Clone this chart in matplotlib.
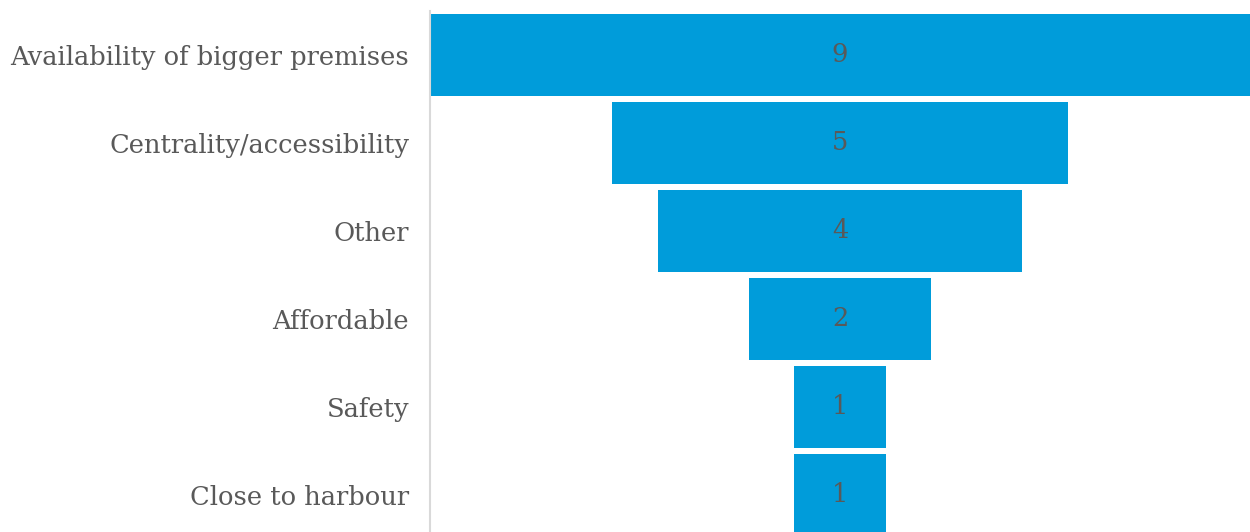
import matplotlib.pyplot as plt

# funnel data
categories = ['Availability of bigger premises', 'Centrality/accessibility', 'Other',
              'Affordable', 'Safety', 'Close to harbour']
values = [9, 5, 4, 2, 1, 1]

bar_color = '#009CDA'
text_color = '#595959'
font = 'DejaVu Serif'

fig = plt.figure(figsize=(12.5, 5.32), dpi=100)
ax = fig.add_axes([430 / 1250, -7 / 532, 820 / 1250, 528 / 532])

xmax = max(values)
y = list(range(len(categories)))
lefts = [(xmax - v) / 2 for v in values]
ax.barh(y, values, left=lefts, height=0.93, color=bar_color)

for yi, v in zip(y, values):
    ax.text(xmax / 2, yi, str(v), ha='center', va='center', fontsize=18.5,
            color=text_color, family=font)

ax.set_xlim(0, xmax)
ax.set_ylim(len(categories) - 0.5, -0.5)
ax.set_yticks(y)
ax.set_yticklabels(categories, fontsize=18.5, color=text_color, family=font)
ax.tick_params(axis='y', length=0, pad=15)
ax.set_xticks([])
for s in ['top', 'right', 'bottom']:
    ax.spines[s].set_visible(False)
ax.spines['left'].set_color('#D9D9D9')
ax.spines['left'].set_linewidth(1.5)

fig.savefig('out.png', dpi=100)
